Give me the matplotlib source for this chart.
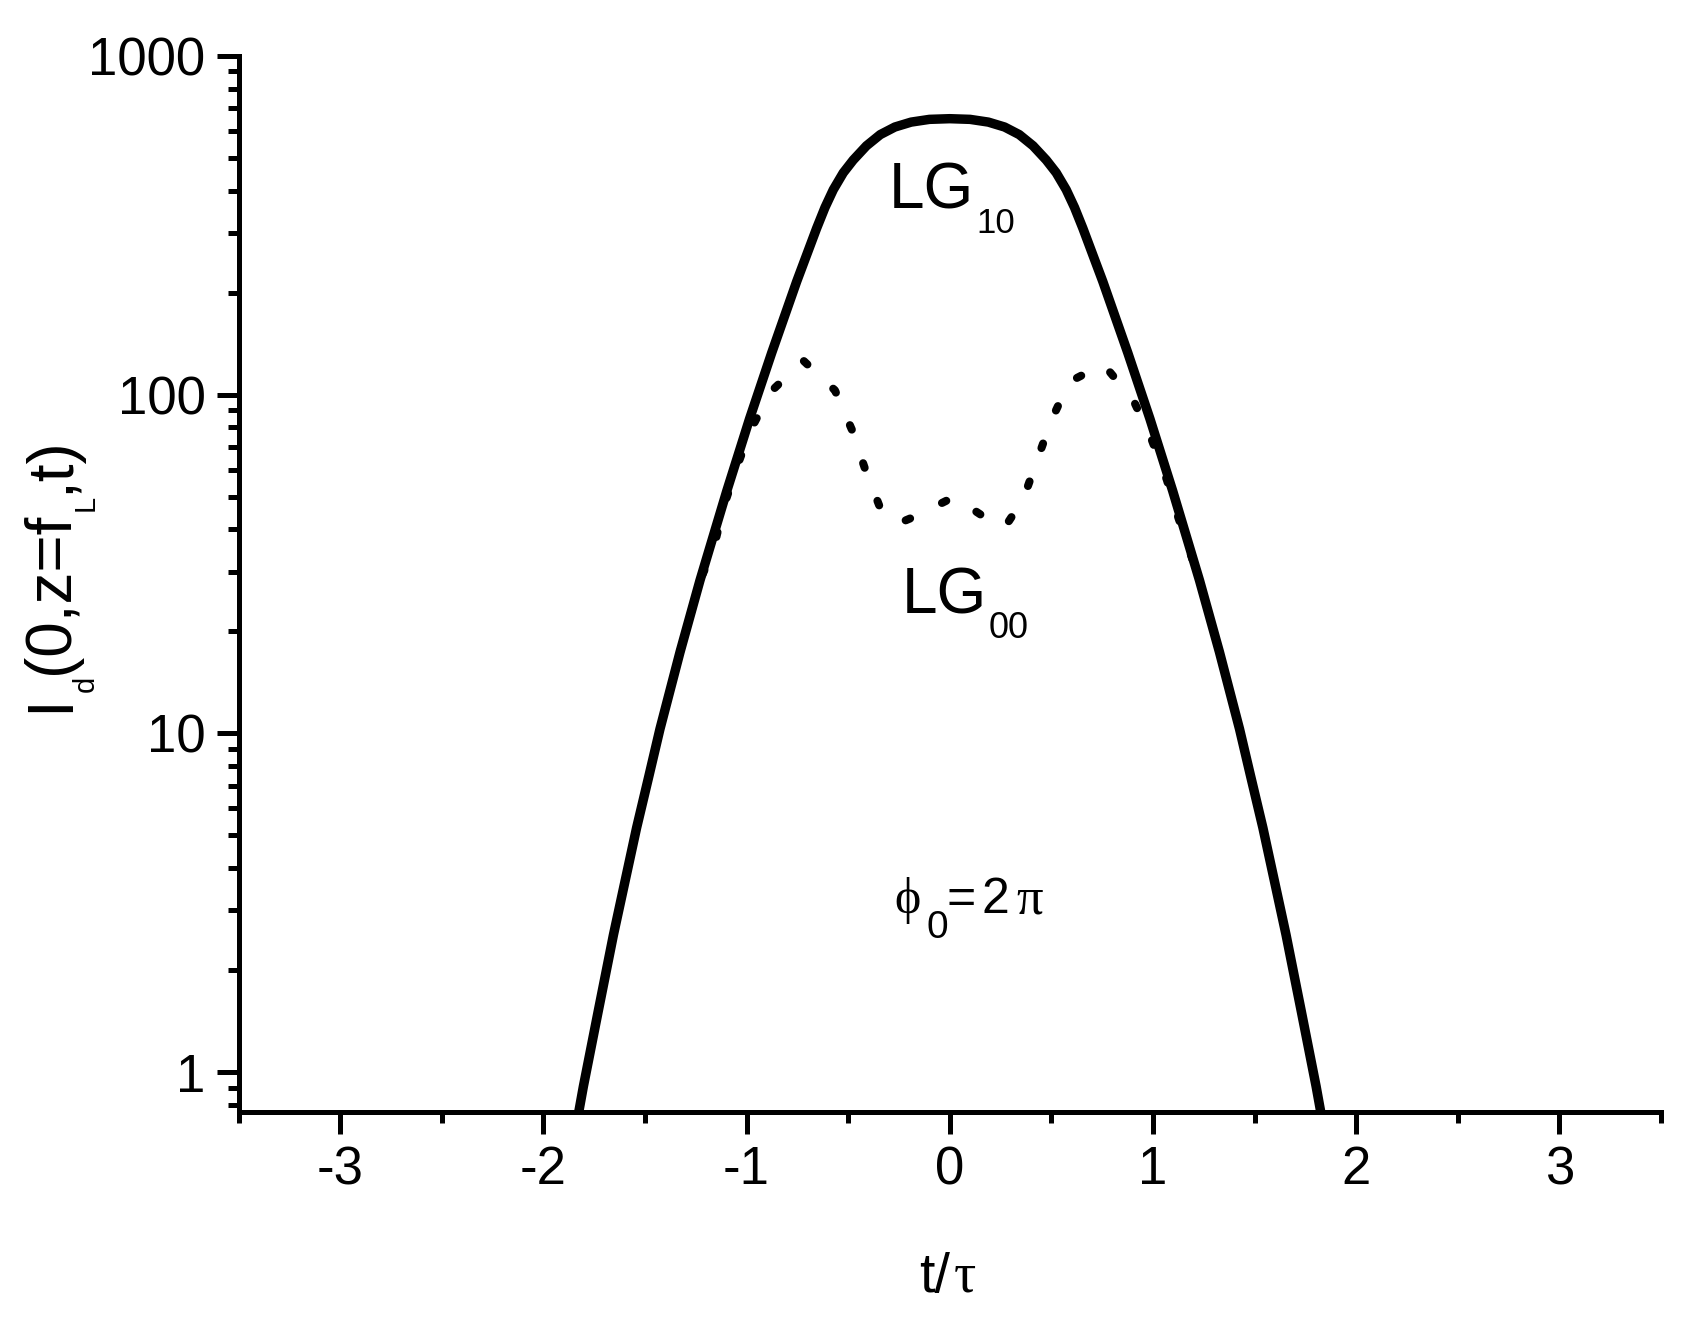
import matplotlib
matplotlib.use('Agg')
import matplotlib.pyplot as plt
from matplotlib.ticker import LogLocator, MultipleLocator, NullFormatter

plt.rcParams['font.family'] = ['Liberation Sans', 'DejaVu Sans']
plt.rcParams['axes.unicode_minus'] = False

# LG10 mode, solid curve (t/tau, intensity)
t_lg10 = [-1.826, -1.803, -1.73, -1.655, -1.60, -1.541, -1.48, -1.426, -1.327,
          -1.229, -1.097, -0.985, -0.876, -0.753, -0.655, -0.614, -0.573, -0.524,
          -0.475, -0.41, -0.342, -0.27, -0.19, -0.10, 0.0,
          0.10, 0.19, 0.27, 0.342, 0.41, 0.475, 0.524, 0.573, 0.614, 0.655,
          0.753, 0.876, 0.985, 1.097, 1.229, 1.327, 1.426, 1.48, 1.541, 1.60,
          1.655, 1.73, 1.803, 1.826]
i_lg10 = [0.76, 0.906, 1.51, 2.54, 3.61, 5.26, 7.50, 10.3, 17.4,
          28.3, 52.0, 84.9, 133, 216, 310, 357, 403, 452,
          493, 543, 586, 617, 638, 650, 653,
          650, 638, 617, 586, 543, 493, 452, 403, 357, 310,
          216, 133, 84.9, 52.0, 28.3, 17.4, 10.3, 7.50, 5.26, 3.61,
          2.54, 1.51, 0.906, 0.76]

# LG00 mode, dotted curve
t_lg00 = [-1.327, -1.229, -1.163, -1.114, -1.052, -0.983, -0.884, -0.720, -0.565,
          -0.482, -0.417, -0.343, -0.26, -0.171, 0.021, 0.214, 0.27, 0.362, 0.431,
          0.499, 0.587, 0.756, 0.904, 0.994, 1.068, 1.125, 1.229]
i_lg00 = [17.4, 28.3, 34.9, 46.4, 60.1, 78, 101.6, 126, 103,
          78.9, 60.4, 46.4, 41.5, 43.7, 49.9, 41.8, 40.5, 49.2, 64.3,
          83.7, 109, 123, 96.2, 73.6, 56.1, 43.3, 28.3]

x_ticks = [-3, -2, -1, 0, 1, 2, 3]
x_ticklabels = ['-3', '-2', '-1', '0', '1', '2', '3']
y_ticks = [1, 10, 100, 1000]
y_ticklabels = ['1', '10', '100', '1000']

W, H = 1688, 1323
fig = plt.figure(figsize=(W / 100, H / 100), dpi=100)
ax = fig.add_axes([238.5 / W, 1 - 1112 / H, (1661 - 238.5) / W, (1112 - 56) / H])

ax.plot(t_lg00, i_lg00, color='black', lw=5.8, linestyle=(0, (0.6, 4.4)),
        dash_capstyle='round')
ax.plot(t_lg10, i_lg10, color='black', lw=6.8, solid_joinstyle='round')

ax.set_yscale('log')
ax.set_xlim(-3.5, 3.5)
ax.set_ylim(0.762, 1000)

ax.set_xticks(x_ticks, x_ticklabels)
ax.xaxis.set_minor_locator(MultipleLocator(0.5))
ax.set_yticks(y_ticks, y_ticklabels)
ax.yaxis.set_minor_locator(LogLocator(base=10, subs=[2, 3, 4, 5, 6, 7, 8, 9]))
ax.yaxis.set_minor_formatter(NullFormatter())

for side in ['top', 'right']:
    ax.spines[side].set_visible(False)
for side in ['left', 'bottom']:
    ax.spines[side].set_linewidth(3.6)

ax.tick_params(which='major', direction='out', length=15.8, width=3.6, labelsize=38)
ax.tick_params(which='minor', direction='out', length=7.9, width=3.6)
ax.tick_params(axis='y', which='major', pad=8)
ax.tick_params(axis='x', which='major', pad=8)


def put(px, py, s, size, family=None, **kw):
    # place text by pixel position (baseline, left)
    fig.text(px / W, 1 - py / H, s, fontsize=size, family=family,
             ha='left', va='baseline', **kw)


renderer = fig.canvas.get_renderer()


def chain_vertical(px, py, pieces):
    # rotated label built from pieces, running bottom to top
    y = py
    for s, size, shift in pieces:
        t = fig.text(0, 0, s, fontsize=size, rotation=90, rotation_mode='anchor',
                     ha='left', va='baseline')
        t.set_position(((px + shift) / W, 1 - y / H))
        bb = t.get_window_extent(renderer)
        y -= bb.height + 2


serif = ['Liberation Serif', 'DejaVu Serif']

# y label: I_d(0,z=f_L,t)
chain_vertical(68, 712, [('I', 46, 0), ('d', 21, 26), ('(0,z=f', 46, 0),
                         ('L', 21, 26), (',t)', 46, 0)])

# x label: t/tau
put(919, 1292, 't/', 40)
put(954, 1292, '\u03c4', 40, family=serif)

# LG10
put(888.6, 208.3, 'LG', 46)
put(976, 233.3, '10', 25)

# LG00
put(902, 613.3, 'LG', 46)
put(988.5, 638.3, '00', 26)

# phi_0 = 2 pi
put(894, 913.3, '\u03d5', 36, family=serif)
put(926.5, 938.3, '0', 28)
put(947, 913.3, '=', 36)
put(982, 913.3, '2', 36)
put(1016, 913.3, '\u03c0', 38, family=serif)

fig.savefig('out.png', dpi=100)
